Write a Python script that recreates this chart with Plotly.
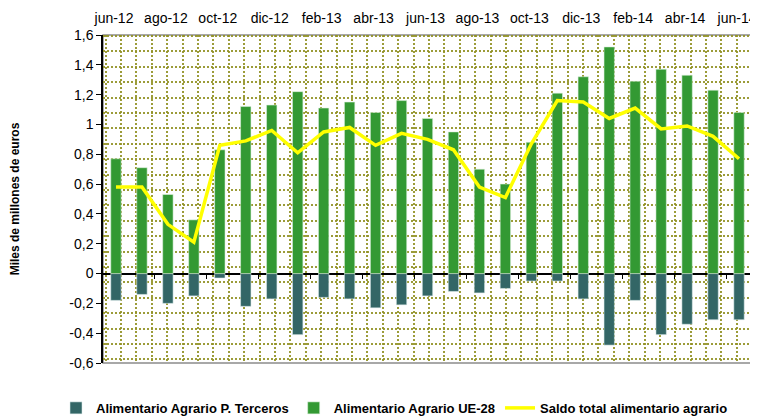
import plotly.graph_objects as go

months = ["jun-12", "jul-12", "ago-12", "sep-12", "oct-12", "nov-12", "dic-12",
          "ene-13", "feb-13", "mar-13", "abr-13", "may-13", "jun-13", "jul-13",
          "ago-13", "sep-13", "oct-13", "nov-13", "dic-13", "ene-14", "feb-14",
          "mar-14", "abr-14", "may-14", "jun-14"]

ue28 = [0.77, 0.71, 0.53, 0.36, 0.83, 1.12, 1.13, 1.22, 1.11, 1.15, 1.08, 1.16,
        1.04, 0.95, 0.70, 0.60, 0.88, 1.21, 1.32, 1.52, 1.29, 1.37, 1.33, 1.23, 1.08]

terceros = [-0.18, -0.14, -0.20, -0.15, -0.03, -0.22, -0.17, -0.41, -0.16, -0.17,
            -0.23, -0.21, -0.15, -0.12, -0.13, -0.10, -0.05, -0.05, -0.17, -0.48,
            -0.18, -0.41, -0.34, -0.31, -0.31]

saldo = [0.58, 0.58, 0.33, 0.21, 0.86, 0.89, 0.96, 0.81, 0.95, 0.98, 0.86, 0.94,
         0.90, 0.83, 0.58, 0.51, 0.87, 1.16, 1.15, 1.04, 1.11, 0.97, 0.99, 0.92, 0.77]

y_tickvals = [-0.6, -0.4, -0.2, 0, 0.2, 0.4, 0.6, 0.8, 1.0, 1.2, 1.4, 1.6]
y_ticktext = ["-0,6", "-0,4", "-0,2", "0", "0,2", "0,4", "0,6", "0,8", "1", "1,2", "1,4", "1,6"]

x = list(range(len(months)))

FONT = "Liberation Sans, Arial, sans-serif"
GRID = "rgba(145,145,35,0.9)"

fig = go.Figure()
fig.add_trace(go.Bar(x=x, y=terceros, name="Alimentario Agrario P. Terceros",
                     marker=dict(color="#336666", line=dict(color="rgba(220,235,235,0.7)", width=0.8)),
                     width=0.4))
fig.add_trace(go.Bar(x=x, y=ue28, name="Alimentario Agrario UE-28",
                     marker=dict(color="#339933", line=dict(color="rgba(220,240,220,0.7)", width=0.8)),
                     width=0.4))
fig.add_trace(go.Scatter(x=x, y=saldo, name="Saldo total alimentario agrario",
                         mode="lines", line=dict(color="#FFFF00", width=3.5)))
# dummy trace so the zero-line tick axis renders
fig.add_trace(go.Scatter(x=[None], y=[None], xaxis="x2", showlegend=False, hoverinfo="skip"))

fig.update_layout(
    width=750, height=409,
    margin=dict(l=95, r=6, t=27, b=54, autoexpand=False),
    paper_bgcolor="white", plot_bgcolor="white",
    barmode="relative",
    font=dict(family=FONT, color="black", size=13),
    showlegend=True,
    legend=dict(orientation="h", x=-0.0724, y=-0.137, xanchor="left", yanchor="middle",
                font=dict(family=FONT, size=13, color="black", weight="bold"),
                bgcolor="rgba(0,0,0,0)", traceorder="normal"),
    xaxis=dict(range=[-0.5, len(months) - 0.5], side="top", automargin=False,
               tickvals=x[::2], ticktext=months[::2], ticklabeloverflow="allow",
               ticklabelshift=-2,
               ticks="outside", ticklen=5, tickcolor="rgba(0,0,0,0)",
               tickfont=dict(size=14), showgrid=False, zeroline=False, showline=False,
               minor=dict(showgrid=True, tick0=-0.396, dtick=0.593, gridcolor=GRID,
                          gridwidth=2, griddash="2px,2px")),
    xaxis2=dict(range=[-0.5, len(months) - 0.5], overlaying="x", anchor="free",
                side="bottom", position=0.6 / 2.2, automargin=False,
                tickvals=[v + 0.5 for v in x[1:-1:2]], showticklabels=False,
                ticks="outside", ticklen=4, tickcolor="black", tickwidth=1,
                showgrid=False, zeroline=False, showline=False),
    yaxis=dict(range=[-0.6, 1.6], tickvals=y_tickvals, ticktext=y_ticktext, automargin=False,
               tickfont=dict(size=14), ticks="outside", ticklen=5, tickcolor="black",
               showline=True, linecolor="black", linewidth=1.5,
               showgrid=False, zeroline=True, zerolinecolor="black", zerolinewidth=1.5,
               minor=dict(showgrid=True, tick0=1.593, dtick=0.1033, gridcolor=GRID,
                          gridwidth=2, griddash="2px,2px"),
               title=dict(text="Miles de millones de euros", standoff=50,
                          font=dict(size=12, weight="bold"))),
    shapes=[dict(type="rect", xref="paper", yref="paper", x0=0, x1=1, y0=0, y1=1,
                 line=dict(color="#8c8c8c", width=1.5), layer="below")],
)

fig.write_html("out.html")
